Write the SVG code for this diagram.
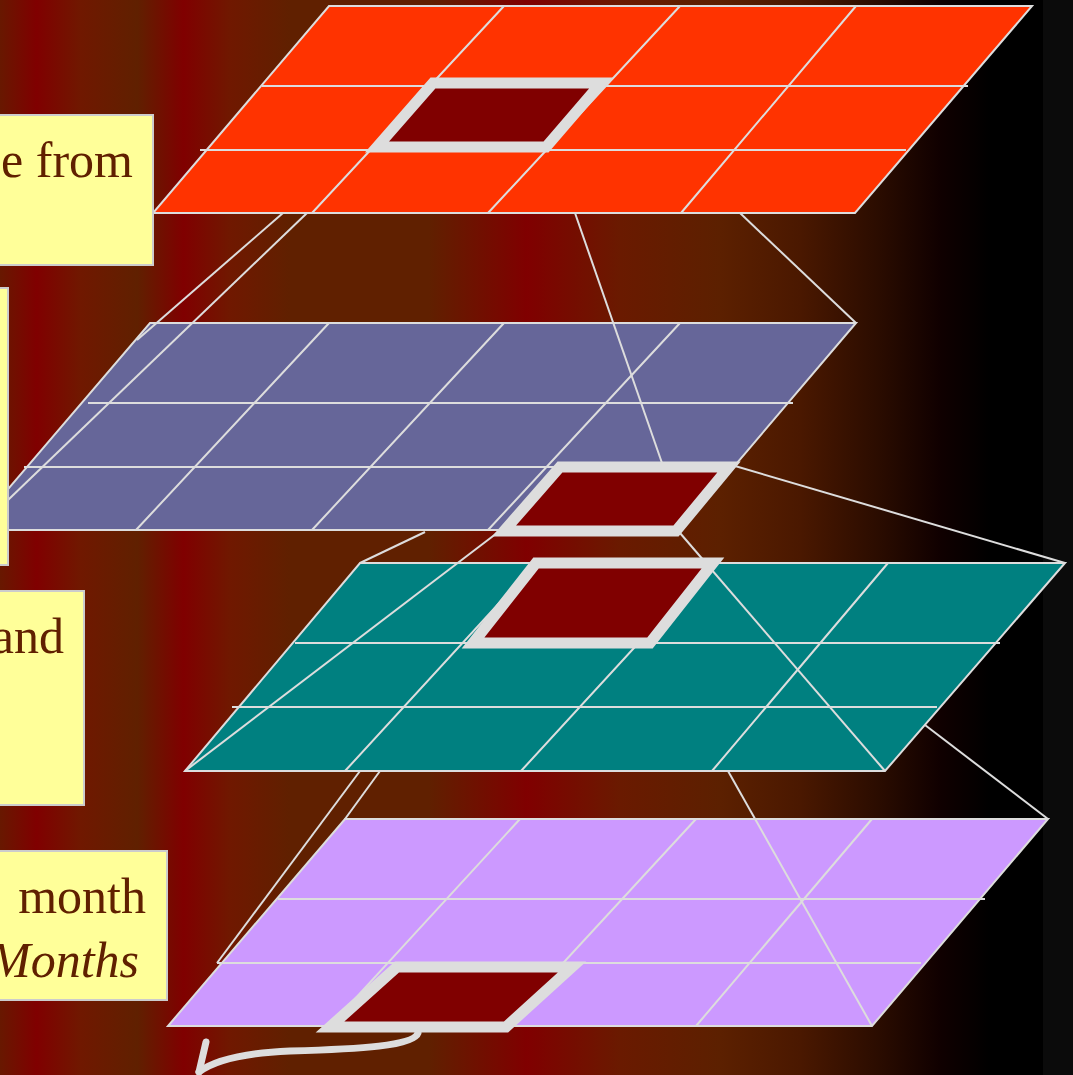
<svg xmlns="http://www.w3.org/2000/svg" width="1073" height="1075" viewBox="0 0 1073 1075">
<defs>
<linearGradient id="bg" gradientUnits="userSpaceOnUse" x1="0" y1="0" x2="1073" y2="0">
<stop offset="0" stop-color="#681800"/>
<stop offset="0.034" stop-color="#800000"/>
<stop offset="0.075" stop-color="#701800"/>
<stop offset="0.128" stop-color="#602000"/>
<stop offset="0.171" stop-color="#800000"/>
<stop offset="0.214" stop-color="#701800"/>
<stop offset="0.27" stop-color="#602000"/>
<stop offset="0.40" stop-color="#602000"/>
<stop offset="0.491" stop-color="#800000"/>
<stop offset="0.578" stop-color="#6a1a00"/>
<stop offset="0.671" stop-color="#5c2000"/>
<stop offset="0.746" stop-color="#4a1800"/>
<stop offset="0.82" stop-color="#2a0c00"/>
<stop offset="0.876" stop-color="#100000"/>
<stop offset="0.923" stop-color="#000000"/>
<stop offset="1" stop-color="#000000"/>
</linearGradient>
</defs>
<style>
.ln{stroke:#dddddd;stroke-width:2;fill:none}
.pl{stroke:#dddddd;stroke-width:2}
.hl{fill:#800000;stroke:#dddddd;stroke-width:11;stroke-linejoin:miter}
.yb{fill:#ffff99;stroke:#cccccc;stroke-width:2}
.tx{font-family:"Liberation Serif","Times New Roman",serif;font-size:50px;fill:#602000;text-anchor:end}
</style>
<rect x="0" y="0" width="1073" height="1075" fill="url(#bg)"/>
<rect x="1043" y="0" width="30" height="1075" fill="#0b0b0b"/>

<g id="layer1">
<polygon class="pl" fill="#ff3300" points="329,6 1032,6 855,213 153,213"/>
<path class="ln" d="M262,86H968M200,150H906M504,6L312,213M680,6L488,213M856,6L681,213"/>
</g>
<g id="layer2">
<polygon class="pl" fill="#666699" points="150,323 856,323 680,530 -27,530"/>
<path class="ln" d="M88,403H793M24,467H730M329,323L136,530M504,323L312,530M680,323L488,530"/>
</g>
<g id="layer3">
<polygon class="pl" fill="#008080" points="360,563 1065,563 885,771 185,771"/>
<path class="ln" d="M295,643H1000M232,707H937M536,563L345,771M712,563L521,771M888,563L712,771"/>
</g>
<g id="layer4">
<polygon class="pl" fill="#cc99ff" points="345,819 1048,819 872,1026 168,1026"/>
<path class="ln" d="M278,899H985M217,963H921M520,819L330,1026M696,819L505,1026M872,819L696,1026"/>
</g>

<g id="connectors" class="ln">
<line x1="283" y1="213" x2="137" y2="340"/>
<line x1="307" y1="213" x2="8" y2="500"/>
<line x1="575" y1="213" x2="662" y2="463"/>
<line x1="740" y1="213" x2="856" y2="323"/>
<line x1="735" y1="466" x2="1065" y2="563"/>
<line x1="425" y1="532" x2="360" y2="563"/>
<line x1="497" y1="533" x2="185" y2="771"/>
<line x1="680" y1="533" x2="885" y2="771"/>
<line x1="925" y1="725" x2="1048" y2="819"/>
<line x1="728" y1="771" x2="872" y2="1026"/>
<line x1="360" y1="771" x2="217" y2="963"/>
<line x1="380" y1="771" x2="345" y2="819"/>
</g>

<g id="box1"><polygon class="hl" points="433,83 601,83 546,147 377,147"/></g>
<g id="box2"><polygon class="hl" points="560,467 729,467 676,531 504,531"/></g>
<g id="box3"><polygon class="hl" points="536,563 713,563 650,643 473,643"/></g>
<g id="box4"><polygon class="hl" points="397,967 572,967 506,1027 330,1027"/></g>

<g id="note1"><rect class="yb" x="-10" y="115" width="163" height="150"/><text class="tx" x="133" y="177">e from</text></g>
<g id="note2"><rect class="yb" x="-10" y="288" width="18" height="277"/></g>
<g id="note3"><rect class="yb" x="-10" y="591" width="94" height="214"/><text class="tx" x="64" y="653">and</text></g>
<g id="note4"><rect class="yb" x="-10" y="851" width="177" height="149"/><text class="tx" x="146" y="913">month</text><text class="tx" x="139" y="977" font-style="italic">Months</text></g>

<g id="arrow" fill="none" stroke="#dddddd" stroke-width="7" stroke-linecap="round" stroke-linejoin="round">
<path d="M418,1033 C414,1046 360,1049 290,1051 C245,1053 215,1060 199,1072"/>
<path d="M206,1042 L199,1072"/>
</g>
</svg>
